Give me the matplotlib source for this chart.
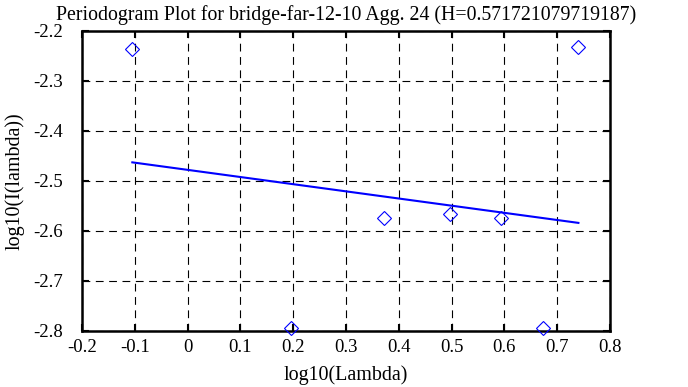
import matplotlib
matplotlib.use("Agg")
import matplotlib.pyplot as plt

# periodogram points (log10 frequency, log10 power)
log_lambda = [-0.1047, 0.1955, 0.3717, 0.4971, 0.5940, 0.6732, 0.7394]
log_power = [-2.236, -2.795, -2.574, -2.566, -2.574, -2.795, -2.233]

# least squares fit line
fit_slope = -0.14344
fit_intercept = -2.478
fit_x = [-0.1047, 0.7402]
H = 0.571721079719187

plt.rcParams['font.family'] = ['Liberation Serif', 'DejaVu Serif']
plt.rcParams['font.size'] = 13.5

fig = plt.figure(figsize=(6.88, 3.87), dpi=100)
ax = fig.add_axes([0.1192, 0.1455, 0.7674, 0.7744])

fit_y = [fit_intercept + fit_slope * x for x in fit_x]
ax.plot(fit_x, fit_y, color='#0000ff', linewidth=1.5, zorder=3)
ax.plot(log_lambda, log_power, linestyle='none', marker='D', markersize=7.3,
        markerfacecolor='none', markeredgecolor='#0000ff', markeredgewidth=0.8,
        clip_on=False, zorder=4)

ax.set_xlim(-0.2, 0.8)
ax.set_ylim(-2.8, -2.2)
ax.set_xticks([-0.2, -0.1, 0, 0.1, 0.2, 0.3, 0.4, 0.5, 0.6, 0.7, 0.8])
ax.set_xticklabels(['-0.2', '-0.1', '0', '0.1', '0.2', '0.3', '0.4', '0.5', '0.6', '0.7', '0.8'])
ax.set_yticks([-2.8, -2.7, -2.6, -2.5, -2.4, -2.3, -2.2])
ax.set_yticklabels(['-2.8', '-2.7', '-2.6', '-2.5', '-2.4', '-2.3', '-2.2'])

ax.grid(True, color='black', linewidth=0.8, linestyle=(0, (7, 5)))
ax.tick_params(direction='in', length=5, width=1.5, top=True, right=True)
ax.tick_params(axis='x', pad=6)
ax.tick_params(axis='y', pad=14)
for s in ax.spines.values():
    s.set_linewidth(1.8)

ax.set_xlabel('log10(Lambda)', fontsize=14.4, labelpad=7)
ax.set_ylabel('log10(I(lambda))', fontsize=14.4, labelpad=6)
ax.set_title('Periodogram Plot for bridge-far-12-10 Agg. 24 (H=%s)' % repr(H),
             fontsize=14.35, pad=8)

fig.savefig('out.png', dpi=100)
